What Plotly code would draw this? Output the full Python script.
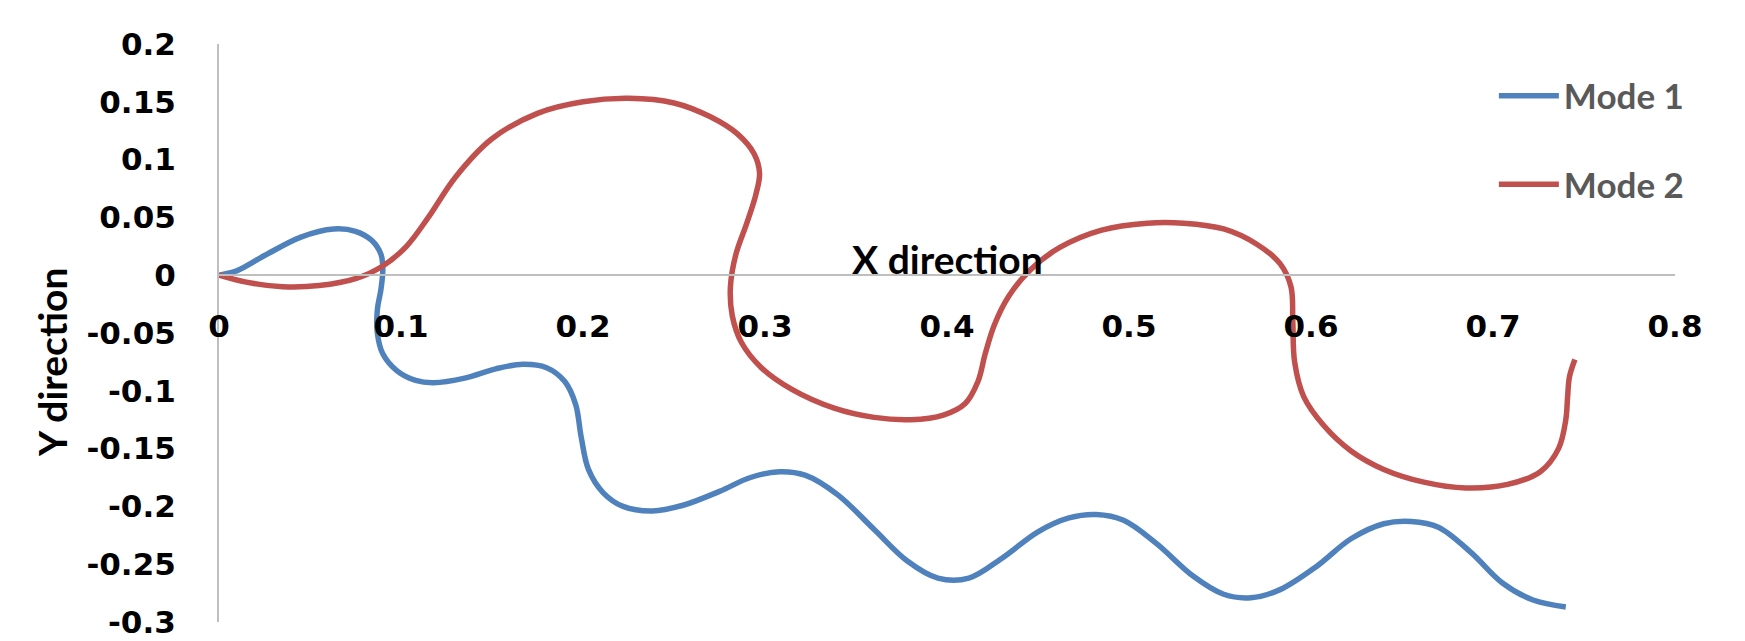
import plotly.graph_objects as go

# Mode 1 (blue) coordinates
mode1_x = [0, 0.010, 0.025, 0.045, 0.063, 0.075, 0.084, 0.089, 0.090, 0.089, 0.087, 0.087,
           0.090, 0.098, 0.108, 0.118, 0.135, 0.152, 0.167, 0.180, 0.190, 0.196, 0.199, 0.203,
           0.211, 0.222, 0.238, 0.255, 0.275, 0.292, 0.308, 0.322, 0.340, 0.360, 0.378, 0.395,
           0.412, 0.430, 0.450, 0.467, 0.482, 0.497, 0.515, 0.535, 0.552, 0.567, 0.583, 0.603,
           0.622, 0.640, 0.655, 0.670, 0.688, 0.705, 0.722, 0.740]
mode1_y = [0, 0.004, 0.017, 0.033, 0.040, 0.038, 0.030, 0.018, 0.005, -0.012, -0.030, -0.050,
           -0.068, -0.083, -0.091, -0.093, -0.089, -0.081, -0.077, -0.080, -0.092, -0.112, -0.140, -0.168,
           -0.188, -0.200, -0.204, -0.199, -0.187, -0.175, -0.170, -0.173, -0.190, -0.220, -0.247, -0.262,
           -0.262, -0.245, -0.222, -0.210, -0.207, -0.212, -0.232, -0.260, -0.276, -0.279, -0.272, -0.252,
           -0.228, -0.215, -0.213, -0.218, -0.240, -0.266, -0.281, -0.287]

# Mode 2 (red) coordinates
mode2_x = [0, 0.015, 0.035, 0.055, 0.075, 0.090, 0.103, 0.115, 0.130, 0.150, 0.175, 0.200,
           0.225, 0.250, 0.270, 0.285, 0.294, 0.297, 0.295, 0.290, 0.284, 0.281, 0.282, 0.287,
           0.298, 0.315, 0.338, 0.360, 0.380, 0.398, 0.410, 0.417, 0.421, 0.426, 0.434, 0.446,
           0.462, 0.485, 0.510, 0.530, 0.552, 0.570, 0.583, 0.589, 0.590, 0.591, 0.596, 0.607,
           0.622, 0.640, 0.662, 0.685, 0.708, 0.726, 0.736, 0.740, 0.741, 0.742, 0.745]
mode2_y = [0, -0.006, -0.010, -0.009, -0.003, 0.008, 0.025, 0.050, 0.085, 0.118, 0.140, 0.150,
           0.153, 0.149, 0.137, 0.122, 0.105, 0.088, 0.070, 0.045, 0.018, -0.010, -0.035, -0.058,
           -0.080, -0.099, -0.115, -0.123, -0.125, -0.121, -0.111, -0.092, -0.068, -0.043, -0.018, 0.005,
           0.024, 0.039, 0.045, 0.045, 0.040, 0.027, 0.010, -0.010, -0.040, -0.075, -0.105, -0.130,
           -0.152, -0.168, -0.179, -0.184, -0.181, -0.170, -0.150, -0.125, -0.105, -0.088, -0.073]

series_names = ["Mode 1", "Mode 2"]
x_ticks = [0, 0.1, 0.2, 0.3, 0.4, 0.5, 0.6, 0.7, 0.8]
x_tick_text = ["0", "0.1", "0.2", "0.3", "0.4", "0.5", "0.6", "0.7", "0.8"]
y_ticks = [0.2, 0.15, 0.1, 0.05, 0, -0.05, -0.1, -0.15, -0.2, -0.25, -0.3]
y_tick_text = ["0.2", "0.15", "0.1", "0.05", "0", "-0.05", "-0.1", "-0.15", "-0.2", "-0.25", "-0.3"]

TITLE_FONT = "Lato"
TICK_FONT = "DejaVu Sans"
BLUE = "#4F81BD"
RED = "#C0504D"

fig = go.Figure()
fig.add_trace(go.Scatter(x=mode1_x, y=mode1_y, mode="lines", name=series_names[0],
                         legendgroup="g1",
                         line=dict(color=BLUE, width=5.5, shape="spline", smoothing=1)))
fig.add_trace(go.Scatter(x=mode2_x, y=mode2_y, mode="lines", name=series_names[1],
                         legendgroup="g2",
                         line=dict(color=RED, width=5.5, shape="spline", smoothing=1)))

# page body has an 8px default margin, so the figure is 8px smaller than the window
fig.update_layout(
    width=1737, height=633,
    margin=dict(l=211, r=70, t=36, b=19, autoexpand=False),
    paper_bgcolor="white", plot_bgcolor="white",
    showlegend=True,
    legend=dict(x=0.8756, y=0.961, xanchor="left", yanchor="top", itemwidth=60,
                font=dict(family=TITLE_FONT, size=35, color="#595959", weight="bold"),
                tracegroupgap=40, bgcolor="rgba(0,0,0,0)"),
    xaxis=dict(range=[0, 0.8], tickvals=x_ticks, ticktext=x_tick_text,
               showgrid=False, zeroline=False, showline=True, linecolor="#BFBFBF", linewidth=2,
               ticks="", anchor="free", position=0.6, ticklabelstandoff=24,
               ticklabeloverflow="allow",
               tickfont=dict(family=TICK_FONT, size=31, color="black", weight="bold")),
    yaxis=dict(range=[-0.3, 0.2], tickvals=y_ticks, ticktext=y_tick_text,
               showgrid=False, zeroline=False, showline=True, linecolor="#BFBFBF", linewidth=2,
               ticks="", ticklabelstandoff=35, ticklabeloverflow="allow",
               tickfont=dict(family=TICK_FONT, size=31, color="black", weight="bold")),
    annotations=[
        dict(text="X direction", x=0.4, y=0, xref="x", yref="y", xanchor="center", yanchor="bottom",
             yshift=-9, showarrow=False,
             font=dict(family=TITLE_FONT, size=39, color="black", weight="bold")),
        dict(text="Y direction", x=-0.1147, y=-0.075, xref="paper", yref="y", xanchor="center",
             yanchor="middle", textangle=-90, showarrow=False,
             font=dict(family=TITLE_FONT, size=39, color="black", weight="bold")),
    ],
)

fig.write_html("out.html")
